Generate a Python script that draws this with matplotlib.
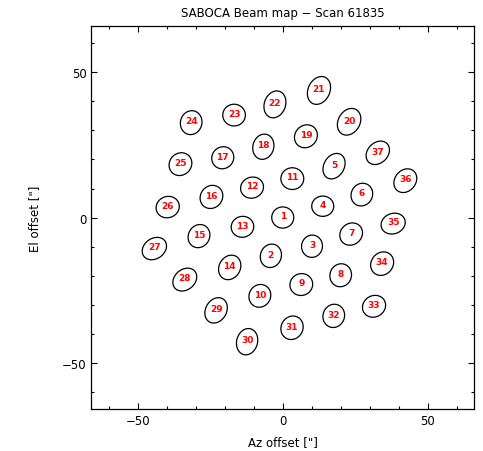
import matplotlib
matplotlib.use("Agg")
import matplotlib.pyplot as plt
from matplotlib.patches import Ellipse
from matplotlib.ticker import MultipleLocator

# beam offsets (arcsec), numbered 1..37
beam_id = list(range(1, 38))
az = [0.0, -4.1, 10.1, 13.8, 17.7, 27.3, 23.6, 20.0, 6.4, -7.9,
      3.3, -10.6, -13.9, -18.3, -28.9, -24.6, -20.7, -6.7, 8.0, 22.9,
      12.5, -2.7, -16.8, -31.6, -35.3, -39.7, -44.3, -33.8, -23.0, -12.3,
      3.2, 17.6, 31.5, 34.3, 38.1, 42.3, 32.8]
el = [0.0, -13.2, -9.9, 3.9, 17.7, 7.9, -5.7, -19.9, -23.1, -27.0,
      13.4, 10.3, -3.2, -17.2, -6.4, 7.1, 20.6, 24.4, 28.0, 33.0,
      43.8, 39.0, 35.3, 32.7, 18.4, 3.6, -10.7, -21.4, -32.0, -42.8,
      -38.0, -33.9, -30.6, -15.9, -2.1, 12.7, 22.3]
# beam FWHM major / minor (arcsec) and position angle (deg)
fwhm_maj = [7.6, 8.2, 7.7, 7.6, 9.3, 8.0, 8.2, 8.0, 7.9, 8.0,
            7.9, 8.0, 7.8, 8.8, 8.2, 8.3, 7.8, 8.8, 8.3, 9.7,
            10.0, 9.5, 7.8, 8.3, 8.2, 8.1, 9.0, 9.0, 9.2, 9.2,
            8.3, 8.1, 8.2, 8.5, 8.5, 8.8, 9.0]
fwhm_min = [7.3, 7.2, 7.2, 7.0, 7.0, 7.3, 7.3, 7.4, 7.5, 7.4,
            7.5, 7.2, 7.2, 7.3, 7.3, 7.5, 7.4, 7.2, 7.5, 7.5,
            7.5, 7.3, 7.5, 7.4, 7.5, 7.3, 7.0, 7.0, 7.2, 7.2,
            7.5, 7.4, 7.3, 7.5, 7.0, 7.2, 7.0]
pa = [0, 70, 80, 0, 60, 60, 40, 70, 20, 60,
      0, 20, 10, 60, 60, 50, 45, 75, 45, 60,
      65, 70, 0, 75, 45, 20, 35, 40, 60, 75,
      60, 70, 30, 50, 20, 50, 45]

fig = plt.figure(figsize=(4.83, 4.52), dpi=100)
ax = fig.add_axes([0.1894, 0.0929, 0.792, 0.8473])

for i in range(len(beam_id)):
    e = Ellipse((az[i], el[i]), fwhm_maj[i], fwhm_min[i], angle=pa[i],
                fill=False, edgecolor='black', linewidth=0.9)
    ax.add_patch(e)
    ax.text(az[i], el[i] + 0.6, str(beam_id[i]), color='red', fontsize=6.5,
            fontweight='bold', ha='center', va='center')

ax.set_xlim(-66, 66)
ax.set_ylim(-66, 66)

ax.xaxis.set_major_locator(MultipleLocator(50))
ax.yaxis.set_major_locator(MultipleLocator(50))
ax.xaxis.set_minor_locator(MultipleLocator(10))
ax.yaxis.set_minor_locator(MultipleLocator(10))
ax.tick_params(which='both', direction='in', top=True, right=True,
               labelsize=8.5, width=0.8)
ax.tick_params(which='major', length=4)
ax.tick_params(which='minor', length=2)
for s in ax.spines.values():
    s.set_linewidth(0.9)

ax.set_title('SABOCA Beam map \u2212 Scan 61835', fontsize=8.5, pad=7)
ax.set_xlabel('Az offset ["]', fontsize=8.5, labelpad=6)
ax.set_ylabel('El offset ["]', fontsize=8.5, labelpad=15)

fig.savefig('out.png', dpi=100)
